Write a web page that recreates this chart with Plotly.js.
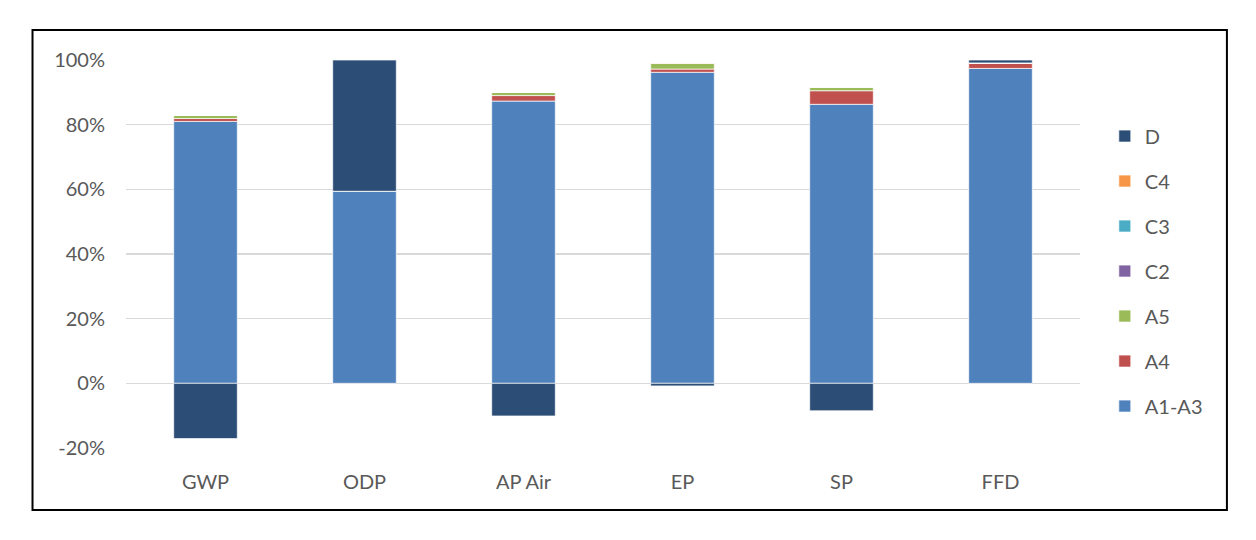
<!DOCTYPE html>
<html>
<head>
<meta charset="utf-8">
<script src="https://cdn.plot.ly/plotly-3.0.1.min.js"></script>
<style>
  html, body { margin: 0; padding: 0; background: #fff; }
  #chart { width: 1256px; height: 540px; }
</style>
</head>
<body>
<div id="chart"></div>
<script>
// Categories and stage values (share of total, %)
var categories = ['GWP', 'ODP', 'AP Air', 'EP', 'SP', 'FFD'];
var a1a3 = [81.0, 59.4, 87.3, 96.2, 86.3, 97.4];
var a4   = [0.9, 0.0, 1.7, 1.0, 4.2, 1.6];
var a5   = [1.0, 0.0, 1.0, 1.8, 1.0, 0.1];
var c2   = [0.02, 0.0, 0.02, 0.02, 0.02, 0.0];
var c3   = [0.01, 0.0, 0.01, 0.01, 0.01, 0.0];
var c4   = [0.01, 0.0, 0.01, 0.01, 0.01, 0.0];
var d    = [-17.1, 40.6, -10.1, -0.8, -8.5, 0.9];
var yTicks = [-20, 0, 20, 40, 60, 80, 100];
var yTickText = ['-20%', '0%', '20%', '40%', '60%', '80%', '100%'];

var stages = [
	{name: 'A1-A3', y: a1a3, color: '#4F81BD'},
	{name: 'A4', y: a4, color: '#C0504D'},
	{name: 'A5', y: a5, color: '#9BBB59'},
	{name: 'C2', y: c2, color: '#8064A2'},
	{name: 'C3', y: c3, color: '#4BACC6'},
	{name: 'C4', y: c4, color: '#F79646'},
	{name: 'D', y: d, color: '#2C4D75'}
];

// legend lists D first, A1-A3 last
var traces = stages.map(function (s, i) {
	return {
		type: 'bar',
		name: s.name,
		legendgroup: s.name,
		legendrank: 1000 - i,
		x: categories,
		y: s.y,
		marker: {color: s.color, line: {color: 'rgba(255,255,255,0.7)', width: 1}},
		hovertemplate: '%{x}: %{y}%<extra>' + s.name + '</extra>'
	};
});

var font = {family: 'Lato, "Open Sans", sans-serif', size: 20, color: '#595959'};

Plotly.newPlot('chart', traces, {
	width: 1256,
	height: 540,
	barmode: 'relative',
	bargap: 0.6,
	font: font,
	paper_bgcolor: '#ffffff',
	plot_bgcolor: '#ffffff',
	margin: {l: 126, r: 176, t: 60, b: 92},
	showlegend: true,
	legend: {
		x: 1.026,
		xanchor: 'left',
		y: 0.456,
		yanchor: 'middle',
		traceorder: 'grouped',
		tracegroupgap: 16,
		font: font
	},
	xaxis: {
		showgrid: false,
		showline: false,
		ticks: '',
		ticklabelstandoff: 20,
		tickfont: font
	},
	yaxis: {
		range: [-20, 100],
		tickvals: yTicks,
		ticktext: yTickText,
		showgrid: true,
		gridcolor: '#D9D9D9',
		gridwidth: 1.5,
		zeroline: true,
		zerolinecolor: '#D9D9D9',
		zerolinewidth: 1.5,
		showline: false,
		ticks: '',
		ticklabelstandoff: 20,
		tickfont: font
	},
	shapes: [{
		type: 'rect',
		xref: 'paper',
		yref: 'paper',
		x0: -0.098,
		x1: 1.154,
		y0: -0.160,
		y1: 1.077,
		line: {color: '#000000', width: 2},
		fillcolor: 'rgba(0,0,0,0)',
		layer: 'above'
	}]
}, {displayModeBar: false, staticPlot: true});
</script>
</body>
</html>
